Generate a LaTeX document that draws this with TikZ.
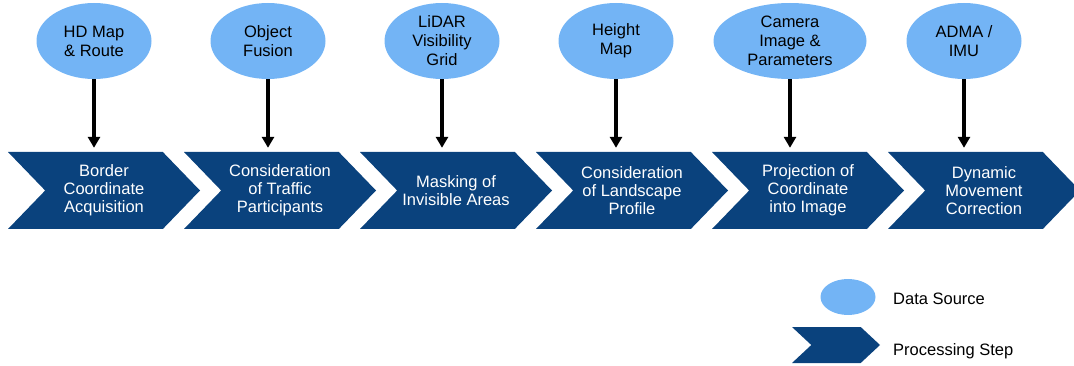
\documentclass[tikz,border=0pt]{standalone}
\usepackage{fontspec}
\setmainfont{Liberation Sans}
\usetikzlibrary{positioning, arrows.meta, shapes.geometric, shapes.symbols}

\definecolor{stepblue}{RGB}{10,66,125}
\definecolor{srcblue}{RGB}{115,180,245}

\begin{document}
\begin{tikzpicture}[
    x=1pt, y=-1pt,
    font=\fontsize{16.5pt}{18pt}\selectfont,
    % Styles
    source/.style={
        ellipse, fill=srcblue, minimum width=115pt, minimum height=76pt, inner sep=0pt, align=center,
        font=\fontsize{16.5pt}{19pt}\selectfont
    },
    procstep/.style={
        signal, signal from=west, signal to=east, signal pointer angle=92, fill=stepblue, text=white,
        minimum width=192pt, minimum height=77pt, inner sep=0pt, align=center
    },
    arrow/.style={-{Triangle[length=11pt, width=12pt]}, line width=3.5pt, black, shorten >=4pt},
    legendtext/.style={anchor=west, inner sep=0pt}
]
    \useasboundingbox (0,0) rectangle (1074,366);

    % --- DATA SOURCES ---
    \node[source] (src1) at (94,41) {HD Map\\ \& Route};
    \node[source] (src2) at (268,41) {Object\\ Fusion};
    \node[source] (src3) at (442,41) {LiDAR\\ Visibility\\ Grid};
    \node[source] (src4) at (616,41) {Height\\ Map};
    \node[source, minimum width=153pt] (src5) at (790,41) {Camera\\ Image \&\\ Parameters};
    \node[source] (src6) at (964,41) {ADMA /\\ IMU};

    % --- PROCESSING STEPS ---
    \node[procstep] (step1) at (104,190.5) {Border\\ Coordinate\\ Acquisition};
    \node[procstep] (step2) at (280,190.5) {Consideration\\ of Traffic\\ Participants};
    \node[procstep] (step3) at (456,190.5) {Masking of\\ Invisible Areas};
    \node[procstep] (step4) at (632,190.5) {Consideration\\ of Landscape\\ Profile};
    \node[procstep] (step5) at (808,190.5) {Projection of\\ Coordinate\\ into Image};
    \node[procstep] (step6) at (984,190.5) {Dynamic\\ Movement\\ Correction};

    % --- CONNECTIONS ---
    \draw[arrow] (src1.south) -- (src1.south |- step1.north);
    \draw[arrow] (src2.south) -- (src2.south |- step2.north);
    \draw[arrow] (src3.south) -- (src3.south |- step3.north);
    \draw[arrow] (src4.south) -- (src4.south |- step4.north);
    \draw[arrow] (src5.south) -- (src5.south |- step5.north);
    \draw[arrow] (src6.south) -- (src6.south |- step6.north);

    % --- LEGEND ---
    \node[source, minimum width=55pt, minimum height=36pt] (legsrc) at (848,297) {};
    \node[procstep, minimum width=88pt, minimum height=36pt, signal pointer angle=86] (legstep) at (836,345) {};
    \node[legendtext] (legsrctext) at (893,299) {Data Source};
    \node[legendtext] (legsteptext) at (893,351) {Processing Step};

\end{tikzpicture}
\end{document}
